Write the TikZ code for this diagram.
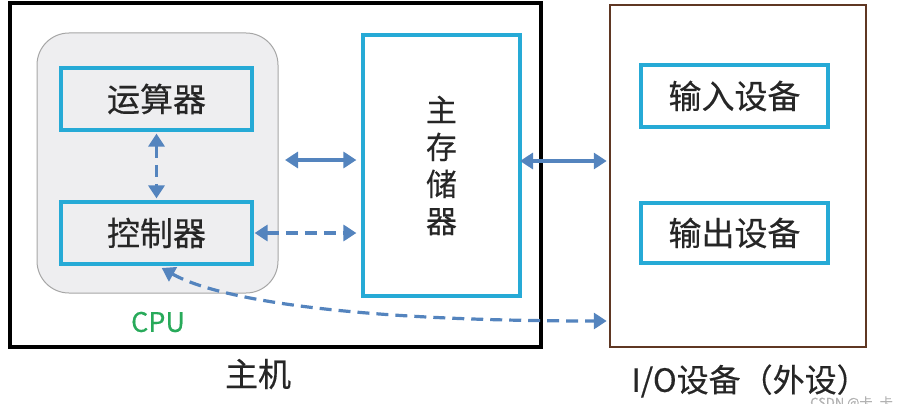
\documentclass[tikz,border=0pt]{standalone}
\usepackage{fontspec}
\setmainfont{Noto Sans CJK SC}[FakeBold=0.35]
\usetikzlibrary{arrows.meta}
\definecolor{cyanbox}{RGB}{38,170,214}
\definecolor{arrowblue}{RGB}{84,132,190}
\definecolor{iobrown}{RGB}{95,55,35}
\definecolor{cpugreen}{RGB}{40,170,90}
\definecolor{cpufill}{RGB}{238,238,240}
\tikzset{
  bluebox/.style={draw=cyanbox, line width=3.2pt, fill=white, inner sep=0pt, text=black!85, font=\fontsize{33}{36}\selectfont},
  conn/.style={draw=arrowblue, line width=3.2pt, {Triangle[length=13pt,width=16pt]}-{Triangle[length=13pt,width=16pt]}},
  dashconn/.style={conn, dash pattern=on 12pt off 7pt},
  lbl/.style={font=\fontsize{33}{36}\selectfont, inner sep=0pt, text=black!85}
}
\begin{document}
\begin{tikzpicture}[x=1pt,y=-1pt]
\useasboundingbox (0,0) rectangle (900,404);
% main host box
\node[draw=black, line width=3.5pt, minimum width=531pt, minimum height=344pt, inner sep=0pt] (host) at (275.5,175) {};
% CPU
\node[draw=gray!70, line width=1pt, fill=cpufill, rounded corners=32pt, minimum width=241pt, minimum height=260pt, inner sep=0pt] (cpu) at (157.5,163) {};
\node[bluebox, fill=cpufill, minimum width=191pt, minimum height=62pt] (alu) at (156.5,99) {运算器};
\node[bluebox, fill=cpufill, minimum width=191pt, minimum height=62pt] (ctrl) at (156.5,233) {控制器};
% main memory
\node[bluebox, minimum width=157pt, minimum height=261pt, align=center, font=\fontsize{31}{37}\selectfont] (mem) at (441.5,165.5) {主\\存\\储\\器};
% IO
\node[draw=iobrown, line width=2.5pt, minimum width=256pt, minimum height=342pt, inner sep=0pt] (io) at (738,176) {};
\node[bluebox, minimum width=187pt, minimum height=62pt] (in) at (734.5,96) {输入设备};
\node[bluebox, minimum width=187pt, minimum height=60pt] (out) at (734.5,233) {输出设备};
% labels
\node[lbl] (hostlbl) at (258,374) {主机};
\node[lbl, font=\fontsize{32}{36}\selectfont] (iolbl) at (750,381) {I/O设备（外设）};
\node[inner sep=0pt, text=cpugreen, font=\fontsize{27}{30}\selectfont] (cpulbl) at (158,322) {CPU};
\node[inner sep=0pt, text=gray!60, font=\fontsize{13}{14}\selectfont, anchor=west] (wm) at (810,403) {CSDN @卡\_卡};
% connectors
\draw[dashconn, shorten <=2pt, shorten >=2pt] (alu.south) -- (ctrl.north);
\coordinate (s1) at (285,160);
\draw[conn, shorten >=5pt] (s1) -- (mem.west |- s1);
\draw[dashconn, shorten <=1pt, shorten >=5pt] (ctrl.east) -- (mem.west |- ctrl.east);
\coordinate (s2) at (520,161);
\draw[conn, shorten >=2pt] (s2) -- (io.west |- s2);
\coordinate (s3) at (io.west |- 0,321);
\draw[dashconn, shorten <=2pt, shorten >=2pt] (160,267) .. controls (215,298) and (340,321) .. (s3);
\end{tikzpicture}
\end{document}
